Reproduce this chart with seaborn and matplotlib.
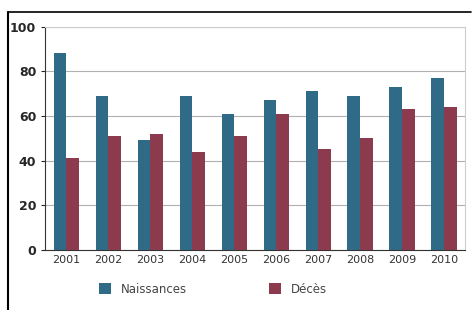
import matplotlib
matplotlib.use('Agg')
import matplotlib.pyplot as plt
import seaborn as sns
import pandas as pd

years = ['2001', '2002', '2003', '2004', '2005', '2006', '2007', '2008', '2009', '2010']
naissances = [88, 69, 49, 69, 61, 67, 71, 69, 73, 77]
deces = [41, 51, 52, 44, 51, 61, 45, 50, 63, 64]

df = pd.DataFrame({
    'annee': years * 2,
    'valeur': naissances + deces,
    'serie': ['Naissances'] * len(years) + ['Décès'] * len(years),
})

sns.set_style('white')
plt.rcParams['font.family'] = ['DejaVu Sans']

fig = plt.figure(figsize=(4.76, 3.10), dpi=100)
ax = fig.add_axes([0.095, 0.194, 0.882, 0.72])

sns.barplot(data=df, x='annee', y='valeur', hue='serie',
            palette={'Naissances': '#2f6b86', 'Décès': '#8c3b4f'},
            width=0.6, saturation=1, linewidth=0, ax=ax, zorder=3)

ax.set_ylim(0, 100)
ax.set_yticks([0, 20, 40, 60, 80, 100])
ax.yaxis.grid(True, color='#b0b0b0', linewidth=0.8, zorder=0)
ax.set_xlabel('')
ax.set_ylabel('')
ax.tick_params(axis='y', labelsize=9, length=3, left=True)
ax.tick_params(axis='x', labelsize=8, length=0, labelcolor='#333333')
for lbl in ax.get_yticklabels():
    lbl.set_fontweight('bold')
for s in ['top', 'right']:
    ax.spines[s].set_color('#cccccc')
for s in ['left', 'bottom']:
    ax.spines[s].set_color('#333333')

ax.legend(loc='upper center', bbox_to_anchor=(0.4, -0.1), ncol=2,
          frameon=False, fontsize=8.5, handlelength=1, handleheight=1,
          columnspacing=7, labelcolor='#444444')

# cadre de la figure (gauche et haut)
fig.add_artist(plt.Line2D([0.017, 0.017], [0.0, 0.96], color='black', lw=1.5))
fig.add_artist(plt.Line2D([0.017, 0.99], [0.96, 0.96], color='black', lw=1.2))

fig.savefig('out.png', dpi=100)
